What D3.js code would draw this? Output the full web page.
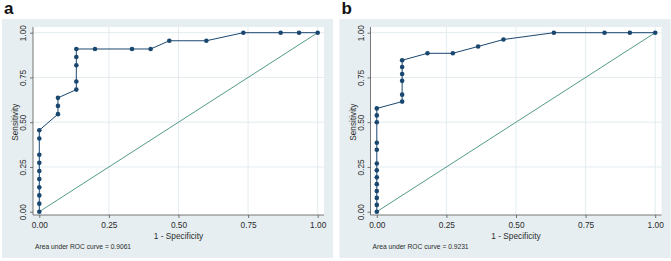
<!DOCTYPE html>
<html>
<head>
<meta charset="utf-8">
<script src="https://cdn.jsdelivr.net/npm/d3@7"></script>
<style>
  html, body { margin: 0; padding: 0; background: #ffffff; }
  svg { display: block; }
  text { font-family: "Liberation Sans", Arial, sans-serif; }
</style>
</head>
<body>
<svg id="chart" width="671" height="261"></svg>
<script>
// ----- data -----
const panelLabels = ["a", "b"];
const aucTexts = ["Area under ROC curve = 0.9061", "Area under ROC curve = 0.9231"];
const tickValues = [0, 0.25, 0.5, 0.75, 1];
const tickLabels = ["0.00", "0.25", "0.50", "0.75", "1.00"];
const xTitle = "1 - Specificity";
const yTitle = "Sensitivity";

const fprA = [0, 0, 0, 0, 0, 0, 0, 0, 0, 0,
  0.067, 0.067, 0.067,
  0.133, 0.133, 0.133, 0.133, 0.133,
  0.2, 0.333, 0.4, 0.467, 0.6, 0.733, 0.867, 0.933, 1];
const tprA = [0, 0.045, 0.091, 0.136, 0.182, 0.227, 0.273, 0.318, 0.409, 0.455,
  0.545, 0.591, 0.636,
  0.682, 0.727, 0.818, 0.864, 0.909,
  0.909, 0.909, 0.909, 0.955, 0.955, 1, 1, 1, 1];

const fprB = [0, 0, 0, 0, 0, 0, 0, 0, 0, 0, 0, 0, 0,
  0.091, 0.091, 0.091, 0.091, 0.091, 0.091,
  0.182, 0.273, 0.364, 0.455, 0.636, 0.818, 0.909, 1];
const tprB = [0, 0.038, 0.077, 0.115, 0.154, 0.192, 0.231, 0.269, 0.346, 0.385, 0.5, 0.538, 0.577,
  0.615, 0.654, 0.731, 0.769, 0.808, 0.846,
  0.885, 0.885, 0.923, 0.962, 1, 1, 1, 1];

const refLine = [0, 1];

// ----- drawing -----
const svg = d3.select("#chart");
const NAVY = "#1a476f";
const GREEN = "#3f8f7c";
const BG = "#e6eef1";
const GRID = "#e0eaee";
const TXT = "#2b2b2b";

function drawPanel(ox, label, fpr, tpr, auc) {
  const g = svg.append("g").attr("transform", `translate(${ox},0)`);
  const x = d3.scaleLinear().domain([0, 1]).range([39.3, 317.7]);
  const y = d3.scaleLinear().domain([0, 1]).range([211.7, 32.7]);

  g.append("text").attr("x", 4).attr("y", 14)
    .attr("font-size", 17).attr("font-weight", "bold").attr("fill", "#111")
    .text(label);

  g.append("rect").attr("x", 2).attr("y", 19).attr("width", 331).attr("height", 239)
    .attr("fill", BG);
  g.append("rect").attr("x", 33).attr("y", 27).attr("width", 291).attr("height", 188)
    .attr("fill", "#ffffff");

  // grid
  g.append("g").selectAll("line.gx").data(tickValues.slice(1)).join("line")
    .attr("x1", d => x(d)).attr("x2", d => x(d)).attr("y1", 27).attr("y2", 215)
    .attr("stroke", GRID).attr("stroke-width", 0.9);
  g.append("g").selectAll("line.gy").data(tickValues.slice(1)).join("line")
    .attr("y1", d => y(d)).attr("y2", d => y(d)).attr("x1", 33).attr("x2", 324)
    .attr("stroke", GRID).attr("stroke-width", 0.9);

  // axes
  const xAxis = d3.axisBottom(x).tickValues(tickValues)
    .tickFormat((d, i) => tickLabels[i]).tickSize(3).tickPadding(4);
  const gx = g.append("g").attr("transform", "translate(0,215)").call(xAxis);
  gx.select(".domain").attr("d", "M33,0H324").attr("stroke", "#555").attr("stroke-width", 0.8);
  gx.selectAll(".tick line").attr("stroke", "#555").attr("stroke-width", 0.8);
  gx.selectAll(".tick text").attr("font-size", 8.3).attr("fill", TXT)
    .attr("font-family", "Liberation Sans, Arial, sans-serif");

  const yAxis = d3.axisLeft(y).tickValues(tickValues)
    .tickFormat((d, i) => tickLabels[i]).tickSize(3);
  const gy = g.append("g").attr("transform", "translate(33,0)").call(yAxis);
  gy.select(".domain").attr("d", "M0,27V215").attr("stroke", "#555").attr("stroke-width", 0.8);
  gy.selectAll(".tick line").attr("stroke", "#555").attr("stroke-width", 0.8);
  gy.selectAll(".tick text")
    .attr("font-size", 8.3).attr("fill", TXT)
    .attr("font-family", "Liberation Sans, Arial, sans-serif")
    .attr("text-anchor", "middle").attr("x", 0).attr("dy", null).attr("y", 0)
    .attr("transform", "translate(-7,0) rotate(-90)");

  g.append("text").attr("x", (x(0) + x(1)) / 2).attr("y", 239)
    .attr("text-anchor", "middle").attr("font-size", 8.3).attr("fill", TXT)
    .text(xTitle);
  g.append("text").attr("transform", `translate(18,${(y(0) + y(1)) / 2}) rotate(-90)`)
    .attr("text-anchor", "middle").attr("font-size", 8.3).attr("fill", TXT)
    .text(yTitle);
  g.append("text").attr("x", 35).attr("y", 249)
    .attr("font-size", 6.7).attr("fill", TXT).text(auc);

  // reference line
  g.append("line").attr("x1", x(refLine[0])).attr("y1", y(refLine[0]))
    .attr("x2", x(refLine[1])).attr("y2", y(refLine[1]))
    .attr("stroke", GREEN).attr("stroke-width", 0.9);

  const pts = fpr.map((f, i) => [f, tpr[i]]);
  g.append("path").datum(pts)
    .attr("d", d3.line().x(d => x(d[0])).y(d => y(d[1])))
    .attr("fill", "none").attr("stroke", NAVY).attr("stroke-width", 1);
  g.append("g").selectAll("circle").data(pts).join("circle")
    .attr("cx", d => x(d[0])).attr("cy", d => y(d[1])).attr("r", 2.3)
    .attr("fill", NAVY);
}

drawPanel(0, panelLabels[0], fprA, tprA, aucTexts[0]);
drawPanel(337.5, panelLabels[1], fprB, tprB, aucTexts[1]);
</script>
</body>
</html>
